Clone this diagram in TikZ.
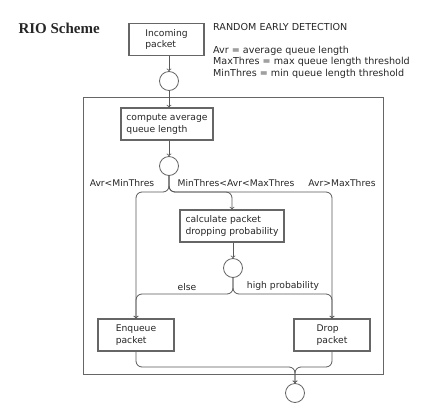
\documentclass[tikz,border=0pt]{standalone}
\usepackage{fontspec}
\setsansfont{DejaVu Sans}
\newfontfamily\titlefont{Liberation Serif}
\usepackage{tikz}
\usetikzlibrary{arrows, positioning}

\begin{document}
\begin{tikzpicture}[
        x=1pt, y=-1pt,
        every node/.style={font=\sffamily\fontsize{9.2}{11.5}\selectfont, text=black!85},
        box/.style={
            rectangle, draw=black!60, line width=1.2pt, fill=white,
            align=left, minimum height=32pt, inner sep=2pt
        },
        junction/.style={circle, draw=black!60, line width=0.8pt, minimum size=19pt, inner sep=0pt},
        arrow/.style={->, >=to, line width=0.8pt, color=black!65},
        line/.style={line width=0.8pt, color=black!65, rounded corners=6pt}
    ]
        \useasboundingbox (0,0) rectangle (424,408);

        % Title and legend
        \node (title) [anchor=west, font=\titlefont\fontsize{15}{17}\selectfont\bfseries] at (15,28) {RIO Scheme};
        \node (legend) [anchor=north west, inner sep=0pt, align=left,
            font=\sffamily\fontsize{9.6}{11.5}\selectfont] at (213,23)
            {RANDOM EARLY DETECTION\\[11.5pt]
             Avr = average queue length\\
             MaxThres = max queue length threshold\\
             MinThres = min queue length threshold};

        % Frame
        \draw[black!60, line width=1pt] (83,97) rectangle (383,374);

        % Boxes and junctions
        \node (inc) [box, minimum width=75pt] at (166.5,39.5) {Incoming\\packet};
        \node (c1) [junction] at (169,81) {};
        \node (avg) [box, minimum width=92pt] at (167,124) {compute average\\queue length};
        \node (c2) [junction] at (169,166) {};
        \node (calc) [box, minimum width=104pt] at (232,226) {calculate packet\\dropping probability};
        \node (c3) [junction] at (233,268) {};
        \node (enq) [box, minimum width=76pt] at (136,335) {Enqueue\\packet};
        \node (drp) [box, minimum width=76pt] at (332,335) {Drop\\packet};
        \node (c4) [junction] at (295,393) {};

        % Split and merge points
        \coordinate (s1) at (169,192);
        \coordinate (s2) at (233,294);
        \coordinate (m1) at (295,367);

        % Branch labels
        \node (lmin) at (122,183) {Avr<MinThres};
        \node (lmid) at (236,183) {MinThres<Avr<MaxThres};
        \node (lmax) at (342,183) {Avr>MaxThres};
        \node (lelse) at (187,287) {else};
        \node (lhigh) at (283,286) {high probability};

        % Connectors
        \draw[arrow] (inc.south -| c1) -- (c1.north);
        \draw[arrow] (c1.south) -- (avg.north -| c1);
        \draw[arrow] (avg.south -| c2) -- (c2.north);
        \draw[line, arrow] (c2.south) -- (s1) -| (calc.north);
        \draw[line, arrow] (c2.south) -- (s1) -| (enq.north);
        \draw[line, arrow] (c2.south) -- (s1) -| (drp.north);
        \draw[arrow] (calc.south -| c3) -- (c3.north);
        \draw[line, arrow] (c3.south) -- (s2) -| (enq.north);
        \draw[line, arrow] (c3.south) -- (s2) -| (drp.north);
        \draw[line, arrow] (enq.south) |- (m1) -- (c4.north);
        \draw[line, arrow] (drp.south) |- (m1) -- (c4.north);

    \end{tikzpicture}
\end{document}
